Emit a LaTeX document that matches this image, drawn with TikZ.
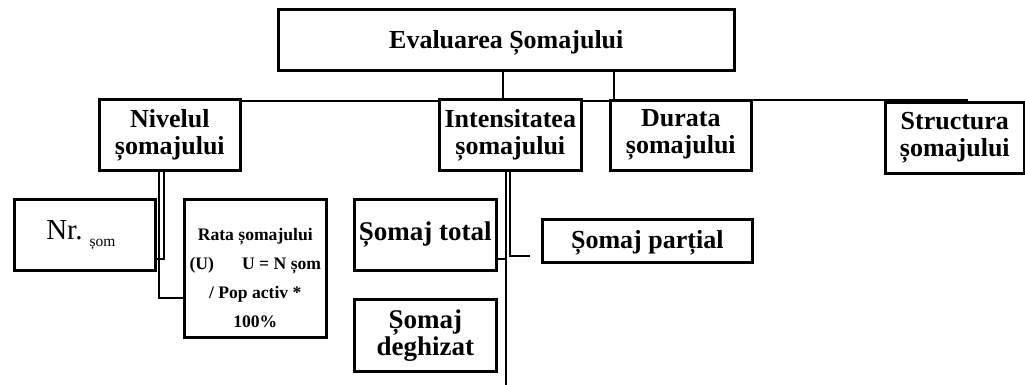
\documentclass[tikz,border=0pt]{standalone}
\usepackage{fontspec}
\setmainfont{Liberation Serif}
\begin{document}
\begin{tikzpicture}[x=1pt,y=-1pt,
  box/.style={draw,line width=2.6pt,anchor=north west,inner sep=0pt,align=center,
    font=\fontsize{26}{27}\selectfont\bfseries},
  conn/.style={line width=2.2pt},
  thin/.style={line width=1.8pt}]
\useasboundingbox (0,0) rectangle (1025,385);
% level 0
\node[box,minimum width=456pt,minimum height=61pt] (main) at (277,8) {\rule{0pt}{24pt}Evaluarea Șomajului};
% level 1
\node[box,minimum width=141pt,minimum height=71pt] (niv) at (98,98) {Nivelul\\șomajului};
\node[box,minimum width=142pt,minimum height=71pt] (int) at (438,98) {Intensitatea\\șomajului};
\node[box,minimum width=141pt,minimum height=70pt] (dur) at (609,99) {Durata\\șomajului};
\node[box,minimum width=139pt,minimum height=71pt] (str) at (884,101) {Structura\\șomajului};
% level 2
\node[box,minimum width=141pt,minimum height=71pt,font=\fontsize{29}{30}\selectfont] (nr) at (13,198)
  {Nr.\hspace{7pt}\raisebox{-7pt}{\fontsize{15.5}{18}\selectfont șom}\hspace{8pt}};
\node[box,minimum width=142pt,minimum height=138pt,font=\fontsize{17.6}{29}\selectfont\bfseries] (rata) at (183,198)
  {\rule{0pt}{31pt}Rata șomajului\\(U)\hspace{1.6em}U = N șom\\/ Pop activ *\\100\%};
\node[box,minimum width=142pt,minimum height=71pt,font=\fontsize{27}{27}\selectfont\bfseries] (tot) at (353,198) {Șomaj total};
\node[box,minimum width=142pt,minimum height=72pt,font=\fontsize{27}{27}\selectfont\bfseries] (deg) at (353,298) {Șomaj\\deghizat};
\node[box,minimum width=210pt,minimum height=43pt] (par) at (541,218) {\rule{0pt}{22pt}Șomaj parțial};
% free ends
\coordinate (intEnd) at (506,385);
\coordinate (parEnd) at (530,256);
% connectors
\draw[conn] ([xshift=226pt]main.south west) -- ([xshift=65pt]int.north west);
\draw[conn] ([xshift=337pt]main.south west) -- ([xshift=5pt]dur.north west);
\draw[thin] ([yshift=-3pt]niv.north east) -- ([yshift=-3pt]int.north west);
\draw[thin] ([yshift=-3pt]int.north east) -- ([yshift=-2pt]dur.north west);
\draw[thin] ([yshift=-1pt]dur.north east) -- ([xshift=84pt,yshift=1pt]str.north west);
\draw[conn] ([xshift=66pt]niv.south west) |- ([yshift=13pt]nr.south east);
\draw[conn] ([xshift=61pt]niv.south west) |- ([yshift=-100pt]rata.north west);
\draw[conn] ([xshift=68pt]int.south west) -- (intEnd);
\draw[conn] ([yshift=13pt]tot.south east) -- ([xshift=68pt,yshift=-87pt]int.south west);
\draw[conn] ([xshift=72pt]int.south west) |- (parEnd);
\end{tikzpicture}
\end{document}
